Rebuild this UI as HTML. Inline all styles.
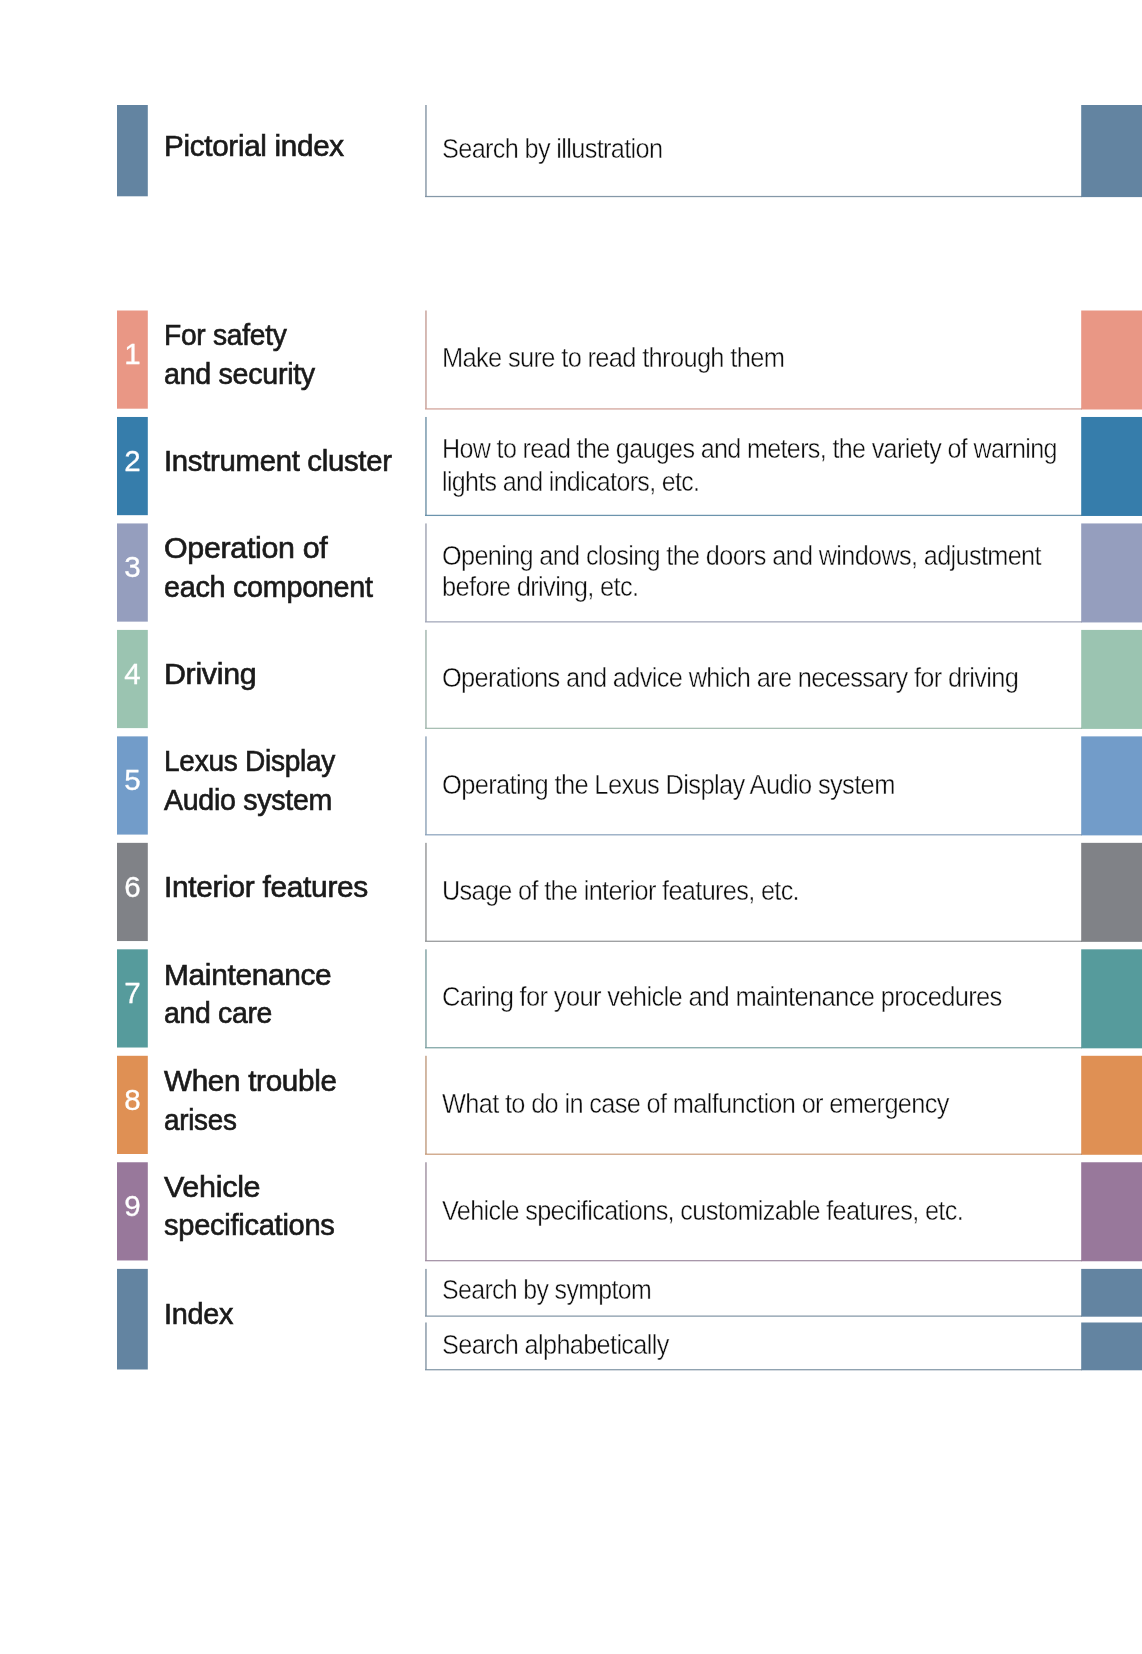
<!DOCTYPE html>
<html><head><meta charset="utf-8"><title>Index</title>
<style>
html,body{margin:0;padding:0;background:#fff;}
body{width:1142px;height:1654px;position:relative;overflow:hidden;font-family:"Liberation Sans",sans-serif;}
.num{position:absolute;left:117px;width:31px;text-align:center;color:#fff;font-size:29.5px;line-height:30px;-webkit-text-stroke:0.3px #fff;}
.t{letter-spacing:-0.3px;position:absolute;white-space:nowrap;font-size:29.5px;line-height:40px;color:#1a1a1a;-webkit-text-stroke:0.65px #1a1a1a;transform-origin:0 0;}
.d{letter-spacing:-0.7px;position:absolute;white-space:nowrap;font-size:27.0px;line-height:34px;color:#0d0d0d;-webkit-text-stroke:0.42px #fff;transform-origin:0 0;}
svg{position:absolute;left:0;top:0;}
#txt{position:absolute;left:0;top:0;width:1142px;height:1654px;will-change:transform;}
</style></head><body>
<svg width="1142" height="1654" viewBox="0 0 1142 1654">
<rect x="117" y="105.00" width="30.8" height="91.30" fill="#6384a1"/>
<rect x="1081.2" y="105.00" width="61" height="92.10" fill="#6384a1"/>
<rect x="425" y="105.00" width="1.9" height="91.30" fill="#7e8f9e" fill-opacity="0.7"/>
<rect x="425" y="195.90" width="657" height="1.25" fill="#677e92" fill-opacity="0.8"/>
<rect x="117" y="310.50" width="30.8" height="98.20" fill="#e99785"/>
<rect x="1081.2" y="310.50" width="61" height="99.00" fill="#e99785"/>
<rect x="425" y="310.50" width="1.9" height="98.20" fill="#c29890" fill-opacity="0.7"/>
<rect x="425" y="408.30" width="657" height="1.25" fill="#c58b7f" fill-opacity="0.8"/>
<rect x="117" y="416.97" width="30.8" height="98.20" fill="#367dab"/>
<rect x="1081.2" y="416.97" width="61" height="99.00" fill="#367dab"/>
<rect x="425" y="416.97" width="1.9" height="98.20" fill="#688ca2" fill-opacity="0.7"/>
<rect x="425" y="514.77" width="657" height="1.25" fill="#477999" fill-opacity="0.8"/>
<rect x="117" y="523.44" width="30.8" height="98.20" fill="#959ebe"/>
<rect x="1081.2" y="523.44" width="61" height="99.00" fill="#959ebe"/>
<rect x="425" y="523.44" width="1.9" height="98.20" fill="#989cac" fill-opacity="0.7"/>
<rect x="425" y="621.24" width="657" height="1.25" fill="#8a90a7" fill-opacity="0.8"/>
<rect x="117" y="629.91" width="30.8" height="98.20" fill="#9bc4b1"/>
<rect x="1081.2" y="629.91" width="61" height="99.00" fill="#9bc4b1"/>
<rect x="425" y="629.91" width="1.9" height="98.20" fill="#9aafa6" fill-opacity="0.7"/>
<rect x="425" y="727.71" width="657" height="1.25" fill="#8eab9e" fill-opacity="0.8"/>
<rect x="117" y="736.38" width="30.8" height="98.20" fill="#729cc9"/>
<rect x="1081.2" y="736.38" width="61" height="99.00" fill="#729cc9"/>
<rect x="425" y="736.38" width="1.9" height="98.20" fill="#869bb2" fill-opacity="0.7"/>
<rect x="425" y="834.18" width="657" height="1.25" fill="#718fae" fill-opacity="0.8"/>
<rect x="117" y="842.85" width="30.8" height="98.20" fill="#808287"/>
<rect x="1081.2" y="842.85" width="61" height="99.00" fill="#808287"/>
<rect x="425" y="842.85" width="1.9" height="98.20" fill="#8d8e90" fill-opacity="0.7"/>
<rect x="425" y="940.65" width="657" height="1.25" fill="#7b7d80" fill-opacity="0.8"/>
<rect x="117" y="949.32" width="30.8" height="98.20" fill="#569b9c"/>
<rect x="1081.2" y="949.32" width="61" height="99.00" fill="#569b9c"/>
<rect x="425" y="949.32" width="1.9" height="98.20" fill="#789a9b" fill-opacity="0.7"/>
<rect x="425" y="1047.12" width="657" height="1.25" fill="#5e8e8f" fill-opacity="0.8"/>
<rect x="117" y="1055.79" width="30.8" height="98.20" fill="#df9054"/>
<rect x="1081.2" y="1055.79" width="61" height="99.00" fill="#df9054"/>
<rect x="425" y="1055.79" width="1.9" height="98.20" fill="#bc9577" fill-opacity="0.7"/>
<rect x="425" y="1153.59" width="657" height="1.25" fill="#be865c" fill-opacity="0.8"/>
<rect x="117" y="1162.26" width="30.8" height="98.20" fill="#98789b"/>
<rect x="1081.2" y="1162.26" width="61" height="99.00" fill="#98789b"/>
<rect x="425" y="1162.26" width="1.9" height="98.20" fill="#99899a" fill-opacity="0.7"/>
<rect x="425" y="1260.06" width="657" height="1.25" fill="#8c768e" fill-opacity="0.8"/>
<rect x="117" y="1268.90" width="30.8" height="100.60" fill="#6384a1"/>
<rect x="1081.2" y="1268.90" width="61" height="47.80" fill="#6384a1"/>
<rect x="425" y="1268.90" width="1.9" height="47.00" fill="#7e8f9e" fill-opacity="0.7"/>
<rect x="425" y="1315.50" width="657" height="1.25" fill="#677e92" fill-opacity="0.8"/>
<rect x="1081.2" y="1322.50" width="61" height="47.80" fill="#6384a1"/>
<rect x="425" y="1322.50" width="1.9" height="47.00" fill="#7e8f9e" fill-opacity="0.7"/>
<rect x="425" y="1369.10" width="657" height="1.25" fill="#677e92" fill-opacity="0.8"/>
</svg>
<div id="txt">
<div class="num" style="top:339.3px">1</div>
<div class="num" style="top:445.7px">2</div>
<div class="num" style="top:552.2px">3</div>
<div class="num" style="top:658.7px">4</div>
<div class="num" style="top:765.2px">5</div>
<div class="num" style="top:871.6px">6</div>
<div class="num" style="top:978.1px">7</div>
<div class="num" style="top:1084.6px">8</div>
<div class="num" style="top:1191.0px">9</div>
<div class="t" style="left:163.5px;top:126.1px;transform:scaleX(1.0037)">Pictorial index</div>
<div class="t" style="left:163.5px;top:315.0px;transform:scaleX(0.9559)">For safety</div>
<div class="t" style="left:163.5px;top:354.4px;transform:scaleX(0.9707)">and security</div>
<div class="t" style="left:163.5px;top:441.1px;transform:scaleX(0.9937)">Instrument cluster</div>
<div class="t" style="left:163.5px;top:527.8px;transform:scaleX(1.0298)">Operation of</div>
<div class="t" style="left:163.5px;top:566.6px;transform:scaleX(0.9755)">each component</div>
<div class="t" style="left:163.5px;top:654.2px;transform:scaleX(1.0289)">Driving</div>
<div class="t" style="left:163.5px;top:741.4px;transform:scaleX(0.9519)">Lexus Display</div>
<div class="t" style="left:163.5px;top:780.2px;transform:scaleX(0.9684)">Audio system</div>
<div class="t" style="left:163.5px;top:866.9px;transform:scaleX(1.0123)">Interior features</div>
<div class="t" style="left:163.5px;top:954.5px;transform:scaleX(1.0107)">Maintenance</div>
<div class="t" style="left:163.5px;top:993.3px;transform:scaleX(0.9617)">and care</div>
<div class="t" style="left:163.5px;top:1060.8px;transform:scaleX(1.0049)">When trouble</div>
<div class="t" style="left:163.5px;top:1099.5px;transform:scaleX(0.9440)">arises</div>
<div class="t" style="left:163.5px;top:1166.7px;transform:scaleX(1.0351)">Vehicle</div>
<div class="t" style="left:163.5px;top:1205.3px;transform:scaleX(0.9868)">specifications</div>
<div class="t" style="left:163.5px;top:1294.1px;transform:scaleX(0.9763)">Index</div>
<div class="d" style="left:442.2px;top:132.2px;transform:scaleX(0.9369)">Search by illustration</div>
<div class="d" style="left:442.2px;top:341.2px;transform:scaleX(0.9421)">Make sure to read through them</div>
<div class="d" style="left:442.2px;top:432.2px;transform:scaleX(0.9301)">How to read the gauges and meters, the variety of warning</div>
<div class="d" style="left:442.2px;top:464.6px;transform:scaleX(0.9250)">lights and indicators, etc.</div>
<div class="d" style="left:442.2px;top:538.6px;transform:scaleX(0.9359)">Opening and closing the doors and windows, adjustment</div>
<div class="d" style="left:442.2px;top:570.0px;transform:scaleX(0.9441)">before driving, etc.</div>
<div class="d" style="left:442.2px;top:661.4px;transform:scaleX(0.9404)">Operations and advice which are necessary for driving</div>
<div class="d" style="left:442.2px;top:768.4px;transform:scaleX(0.9446)">Operating the Lexus Display Audio system</div>
<div class="d" style="left:442.2px;top:873.6px;transform:scaleX(0.9357)">Usage of the interior features, etc.</div>
<div class="d" style="left:442.2px;top:980.3px;transform:scaleX(0.9449)">Caring for your vehicle and maintenance procedures</div>
<div class="d" style="left:442.2px;top:1087.3px;transform:scaleX(0.9392)">What to do in case of malfunction or emergency</div>
<div class="d" style="left:442.2px;top:1193.6px;transform:scaleX(0.9352)">Vehicle specifications, customizable features, etc.</div>
<div class="d" style="left:442.2px;top:1273.4px;transform:scaleX(0.9224)">Search by symptom</div>
<div class="d" style="left:442.2px;top:1327.5px;transform:scaleX(0.9369)">Search alphabetically</div>
</div>
</body></html>
